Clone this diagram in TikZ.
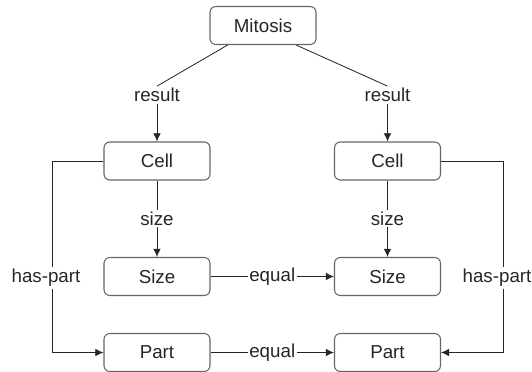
\documentclass[tikz,border=0pt]{standalone}
\usepackage{fontspec}
\setmainfont{Liberation Sans}
\usetikzlibrary{arrows.meta,calc}
\begin{document}
\begin{tikzpicture}[x=0.03cm,y=-0.03cm,
    concept/.style={draw=black!60,line width=0.9pt,rounded corners=5pt,fill=white,
      minimum width=3.18cm,minimum height=1.14cm,inner sep=0pt,
      font=\fontsize{16}{19}\selectfont,text=black!85},
    rel/.style={font=\fontsize{16}{19}\selectfont,text=black!85,inner sep=1.5pt},
    link/.style={draw=black!85,line width=0.7pt},
    arr/.style={link,-{Latex[length=7pt,width=6.5pt]}}]
                \useasboundingbox (0,0) rectangle (532,372);
                \node[concept] (mit) at (263,25.5) {Mitosis};
                \node[concept] (lcell) at (157,161) {Cell};
                \node[concept] (rcell) at (387.5,161) {Cell};
                \node[concept] (lsize) at (157,276.5) {Size};
                \node[concept] (rsize) at (387.5,276.5) {Size};
                \node[concept] (lpart) at (157,352.5) {Part};
                \node[concept] (rpart) at (387.5,352.5) {Part};
                \node[rel] (lres) at (157,95) {result};
                \node[rel] (rres) at (387.5,95) {result};
                \node[rel] (lhas) at (46,278) {has-part};
                \node[rel] (rhas) at (497,278) {has-part};
                % mitosis results
                \draw[link] ($(mit.south west)!0.17!(mit.south east)$) -- (lres.north);
                \draw[link] ($(mit.south west)!0.81!(mit.south east)$) -- (rres.north);
                \draw[arr] (lres) -- (lcell);
                \draw[arr] (rres) -- (rcell);
                % sizes
                \draw[arr] (lcell) -- node[rel,fill=white] {size} (lsize);
                \draw[arr] (rcell) -- node[rel,fill=white] {size} (rsize);
                \draw[arr] (lsize) -- node[rel,fill=white] {equal} (rsize);
                \draw[arr] (lpart) -- node[rel,fill=white] {equal} (rpart);
                % parts
                \draw[link] (lcell.west) -| ([xshift=0.18cm]lhas.north);
                \draw[arr] ([xshift=0.18cm]lhas.south) |- (lpart.west);
                \draw[link] (rcell.east) -| ([xshift=0.18cm]rhas.north);
                \draw[arr] ([xshift=0.18cm]rhas.south) |- (rpart.east);
            \end{tikzpicture}
\end{document}
